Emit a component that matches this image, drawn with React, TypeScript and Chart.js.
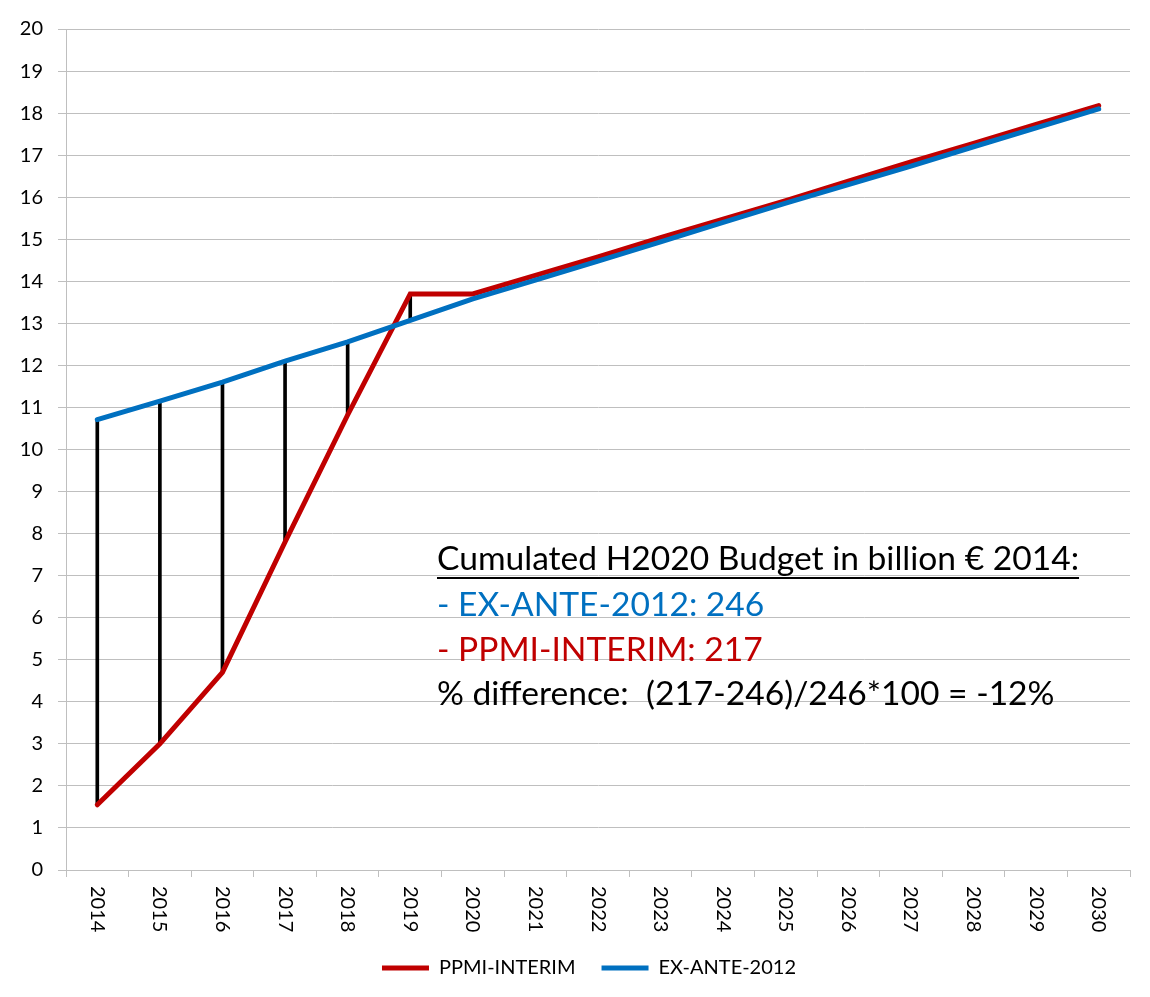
import { useEffect, useRef } from "react";
import { Chart, registerables } from "chart.js";

Chart.register(...registerables);

const years = [
  "2014", "2015", "2016", "2017", "2018", "2019", "2020", "2021", "2022",
  "2023", "2024", "2025", "2026", "2027", "2028", "2029", "2030",
];
const ppmiInterim = [
  1.55, 3.0, 4.7, 7.8, 10.82, 13.7, 13.7, 14.14, 14.58, 15.04, 15.48, 15.92,
  16.38, 16.84, 17.28, 17.73, 18.18,
];
const exAnte2012 = [
  10.71, 11.15, 11.6, 12.1, 12.56, 13.07, 13.58, 14.03, 14.48, 14.94, 15.4,
  15.86, 16.3, 16.74, 17.2, 17.65, 18.1,
];
const gapYearCount = 6;
const noteTitle = "Cumulated H2020 Budget in billion € 2014:";
const noteLines = [
  { text: "- EX-ANTE-2012: 246", color: "#0070C0" },
  { text: "- PPMI-INTERIM: 217", color: "#C00000" },
  { text: "% difference:  (217-246)/246*100 = -12%", color: "#000000" },
];

const FONT = "Lato, 'Open Sans', 'DejaVu Sans', sans-serif";

const xLabelPlugin = {
  id: "xLabels",
  afterDraw(chart: any) {
    const ctx = chart.ctx;
    const xs = chart.scales.x;
    const top = chart.chartArea.bottom + 16;
    ctx.save();
    ctx.font = `20px ${FONT}`;
    ctx.fillStyle = "#000";
    ctx.textAlign = "left";
    ctx.textBaseline = "middle";
    years.forEach((label, i) => {
      const x = xs.getPixelForValue(i);
      ctx.save();
      ctx.translate(x, top);
      ctx.rotate(Math.PI / 2);
      ctx.fillText(label, 0, 0);
      ctx.restore();
    });
    ctx.restore();
  },
};

const legendShiftPlugin = {
  id: "legendShift",
  afterLayout(chart: any) {
    if (chart.legend) {
      chart.legend.left += 20;
      chart.legend.right += 20;
    }
  },
};

const notePlugin = {
  id: "note",
  afterDraw(chart: any) {
    const ctx = chart.ctx;
    const x0 = 429;
    ctx.save();
    ctx.font = `33.6px ${FONT}`;
    ctx.textAlign = "left";
    ctx.textBaseline = "alphabetic";
    ctx.fillStyle = "#000";
    ctx.fillText(noteTitle, x0, 563);
    const w = ctx.measureText(noteTitle).width;
    ctx.fillRect(x0, 570, w, 2);
    const baselines = [609, 654, 698];
    noteLines.forEach((l, i) => {
      ctx.fillStyle = l.color;
      ctx.fillText(l.text, x0, baselines[i]);
    });
    ctx.restore();
  },
};

export default function App() {
  const ref = useRef<HTMLCanvasElement | null>(null);

  useEffect(() => {
    if (!ref.current) return;
    const gaps = years.map((_, i) =>
      i < gapYearCount ? [ppmiInterim[i], exAnte2012[i]] : null
    );
    const chart = new Chart(ref.current, {
      type: "line",
      data: {
        labels: years,
        datasets: [
          {
            type: "line",
            label: "PPMI-INTERIM",
            data: ppmiInterim,
            borderColor: "#C00000",
            backgroundColor: "#C00000",
            borderWidth: 5,
            pointRadius: 0,
            tension: 0,
            borderCapStyle: "round",
            order: 2,
          },
          {
            type: "line",
            label: "EX-ANTE-2012",
            data: exAnte2012,
            borderColor: "#0070C0",
            backgroundColor: "#0070C0",
            borderWidth: 5,
            pointRadius: 0,
            tension: 0,
            borderCapStyle: "round",
            order: 1,
          },
          {
            type: "bar",
            label: "gap",
            data: gaps as any,
            backgroundColor: "#000000",
            barThickness: 3,
            order: 3,
          },
        ],
      },
      options: {
        animation: false,
        responsive: false,
        maintainAspectRatio: false,
        layout: { padding: { left: 0, right: 19, top: 22, bottom: 7 } },
        scales: {
          x: {
            type: "category",
            offset: true,
            grid: {
              offset: true,
              drawOnChartArea: false,
              drawTicks: true,
              tickLength: 7,
              color: "#bfbfbf",
            },
            border: { display: true, color: "#bfbfbf" },
            ticks: { display: false },
            afterFit(scale: any) {
              scale.height = 62;
            },
          },
          y: {
            min: 0,
            max: 20,
            ticks: {
              stepSize: 1,
              padding: 15,
              color: "#000",
              font: { family: FONT, size: 20 },
            },
            grid: { color: "#bfbfbf", tickLength: 8 },
            border: { display: true, color: "#bfbfbf" },
            afterFit(scale: any) {
              scale.width = 58;
              scale.paddingTop = 0;
              scale.paddingBottom = 0;
            },
          },
        },
        plugins: {
          tooltip: { enabled: false },
          legend: {
            position: "bottom",
            labels: {
              usePointStyle: true,
              pointStyle: "line",
              pointStyleWidth: 47,
              padding: 26,
              color: "#000",
              font: { family: FONT, size: 20 },
              filter: (item: any) => item.datasetIndex !== 2,
              sort: (a: any, b: any) => a.datasetIndex - b.datasetIndex,
            },
          },
        },
      } as any,
      plugins: [xLabelPlugin, notePlugin, legendShiftPlugin],
    });
    return () => chart.destroy();
  }, []);

  return (
    <div
      style={{
        width: 1142,
        height: 989,
        borderLeft: "1px solid #d0d0d0",
        borderTop: "1px solid #d0d0d0",
        marginLeft: -1,
        marginTop: -2,
        boxSizing: "border-box",
      }}
    >
      <canvas ref={ref} width={1141} height={988} style={{ display: "block" }} />
    </div>
  );
}
